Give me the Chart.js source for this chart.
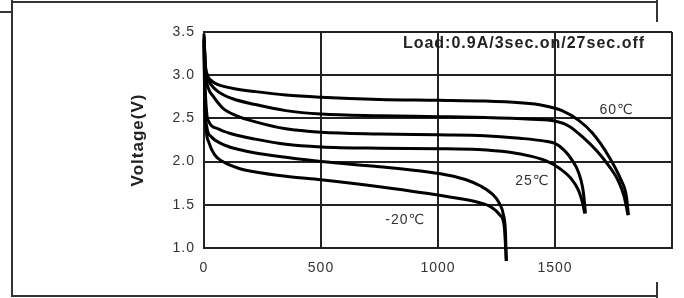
<!DOCTYPE html>
<html>
<head>
<meta charset="utf-8">
<script src="https://cdn.jsdelivr.net/npm/chart.js@4.4.1/dist/chart.umd.min.js"></script>
<style>
  html, body { margin: 0; padding: 0; background: #fff; }
</style>
</head>
<body>
<canvas id="chart" width="684" height="298"></canvas>
<script>
// discharge curves, capacity (mAh) vs voltage (V); hi/lo pair per temperature
const cap60hi = [0, 5, 15, 30, 60, 120, 220, 350, 500, 750, 1000, 1200, 1350, 1450, 1530, 1600, 1660, 1730, 1780, 1805, 1814];
const volt60hi = [3.48, 3.15, 3.00, 2.94, 2.89, 2.85, 2.81, 2.77, 2.745, 2.72, 2.71, 2.70, 2.68, 2.65, 2.59, 2.48, 2.33, 2.06, 1.80, 1.60, 1.38];
const cap60lo = [0, 6, 15, 30, 60, 120, 220, 350, 500, 750, 1000, 1200, 1400, 1500, 1560, 1620, 1680, 1730, 1770, 1795, 1812];
const volt60lo = [3.45, 3.10, 2.97, 2.89, 2.81, 2.73, 2.66, 2.59, 2.55, 2.53, 2.52, 2.51, 2.49, 2.47, 2.41, 2.28, 2.12, 1.95, 1.78, 1.60, 1.38];
const cap25hi = [0, 8, 20, 38, 80, 140, 220, 350, 500, 750, 1000, 1200, 1350, 1450, 1500, 1540, 1572, 1600, 1618, 1627, 1630];
const volt25hi = [3.42, 3.0, 2.84, 2.76, 2.62, 2.53, 2.46, 2.38, 2.34, 2.32, 2.31, 2.30, 2.27, 2.24, 2.21, 2.13, 2.02, 1.88, 1.70, 1.50, 1.40];
const cap25lo = [0, 5, 12, 21, 60, 120, 220, 350, 500, 750, 1000, 1170, 1300, 1400, 1460, 1520, 1570, 1600, 1618, 1627];
const volt25lo = [3.40, 2.85, 2.55, 2.46, 2.38, 2.32, 2.26, 2.20, 2.17, 2.155, 2.15, 2.14, 2.11, 2.06, 2.01, 1.92, 1.80, 1.67, 1.52, 1.40];
const capM20hi = [0, 4, 12, 30, 80, 150, 220, 350, 500, 750, 958, 1050, 1120, 1180, 1230, 1262, 1280, 1288, 1292];
const voltM20hi = [3.40, 2.7, 2.40, 2.29, 2.20, 2.14, 2.10, 2.05, 2.00, 1.94, 1.88, 1.84, 1.79, 1.72, 1.63, 1.52, 1.38, 1.2, 0.85];
const capM20lo = [0, 3, 10, 21, 45, 80, 150, 220, 350, 500, 750, 958, 1050, 1170, 1230, 1265, 1283, 1292];
const voltM20lo = [3.35, 2.7, 2.35, 2.22, 2.08, 2.00, 1.92, 1.88, 1.83, 1.79, 1.71, 1.63, 1.59, 1.53, 1.47, 1.38, 1.25, 0.85];

const tempLabels = ['60\u2103', '25\u2103', '-20\u2103'];
const tempLabelCap = [1763, 1403, 860];
const tempLabelVolt = [2.59, 1.77, 1.32];
const loadNote = 'Load:0.9A/3sec.on/27sec.off';

const FONT = '"Liberation Sans", Arial, "DejaVu Sans", sans-serif';

function pts(caps, volts) {
    return caps.map((c, i) => ({ x: c, y: volts[i] }));
}

function curve(caps, volts) {
    return {
        data: pts(caps, volts),
        borderColor: '#000',
        borderWidth: 3,
        pointRadius: 0,
        cubicInterpolationMode: 'monotone',
        clip: false
    };
}

const decor = {
    id: 'decor',
    beforeDraw(chart) {
        chart.ctx.letterSpacing = '1px';
    },
    afterDraw(chart) {
        const { ctx, scales: { x, y } } = chart;
        ctx.save();
        // outer frame pieces
        ctx.strokeStyle = '#333';
        ctx.lineWidth = 2;
        ctx.beginPath();
        ctx.moveTo(0, 12); ctx.lineTo(12, 12);
        ctx.moveTo(12, 0); ctx.lineTo(12, 297);
        ctx.moveTo(12, 2); ctx.lineTo(658, 2);
        ctx.moveTo(657, 0); ctx.lineTo(657, 22);
        ctx.moveTo(12, 296); ctx.lineTo(658, 296);
        ctx.moveTo(657, 282); ctx.lineTo(657, 298);
        ctx.stroke();

        ctx.fillStyle = '#222';
        ctx.textBaseline = 'middle';
        ctx.font = 'bold 16px ' + FONT;
        ctx.letterSpacing = '1px';
        ctx.textAlign = 'right';
        ctx.fillText(loadNote, x.getPixelForValue(1885), y.getPixelForValue(3.37));

        ctx.font = '14px ' + FONT;
        ctx.letterSpacing = '1px';
        ctx.textAlign = 'center';
        ctx.fillStyle = '#333';
        tempLabels.forEach((t, i) => {
            ctx.fillText(t, x.getPixelForValue(tempLabelCap[i]), y.getPixelForValue(tempLabelVolt[i]));
        });
        ctx.restore();
    }
};

new Chart(document.getElementById('chart'), {
    type: 'line',
    data: {
        datasets: [
            curve(cap60hi, volt60hi),
            curve(cap60lo, volt60lo),
            curve(cap25hi, volt25hi),
            curve(cap25lo, volt25lo),
            curve(capM20hi, voltM20hi),
            curve(capM20lo, voltM20lo)
        ]
    },
    options: {
        responsive: false,
        animation: false,
        layout: { padding: { top: 32, right: 7, left: 0, bottom: 0 } },
        plugins: {
            legend: { display: false },
            tooltip: { enabled: false }
        },
        scales: {
            x: {
                type: 'linear',
                min: 0,
                max: 2000,
                afterFit: (s) => { s.height = 50; },
                ticks: {
                    stepSize: 500,
                    padding: 12,
                    color: '#333',
                    font: { family: FONT, size: 14 },
                    maxRotation: 0,
                    callback: (v) => (v === 2000 ? '' : v)
                },
                grid: { color: '#222', lineWidth: 2, drawTicks: false },
                border: { color: '#222', width: 2 }
            },
            y: {
                min: 1,
                max: 3.5,
                afterFit: (s) => { s.width = 204; },
                ticks: {
                    stepSize: 0.5,
                    padding: 9,
                    color: '#333',
                    font: { family: FONT, size: 14 },
                    callback: (v) => v.toFixed(1)
                },
                grid: { color: '#222', lineWidth: 2, drawTicks: false },
                border: { color: '#222', width: 2 },
                title: {
                    display: true,
                    text: 'Voltage(V)',
                    color: '#222',
                    font: { family: FONT, size: 17, weight: 'bold' },
                    padding: { top: 128, bottom: 0 }
                }
            }
        }
    },
    plugins: [decor]
});
</script>
</body>
</html>
